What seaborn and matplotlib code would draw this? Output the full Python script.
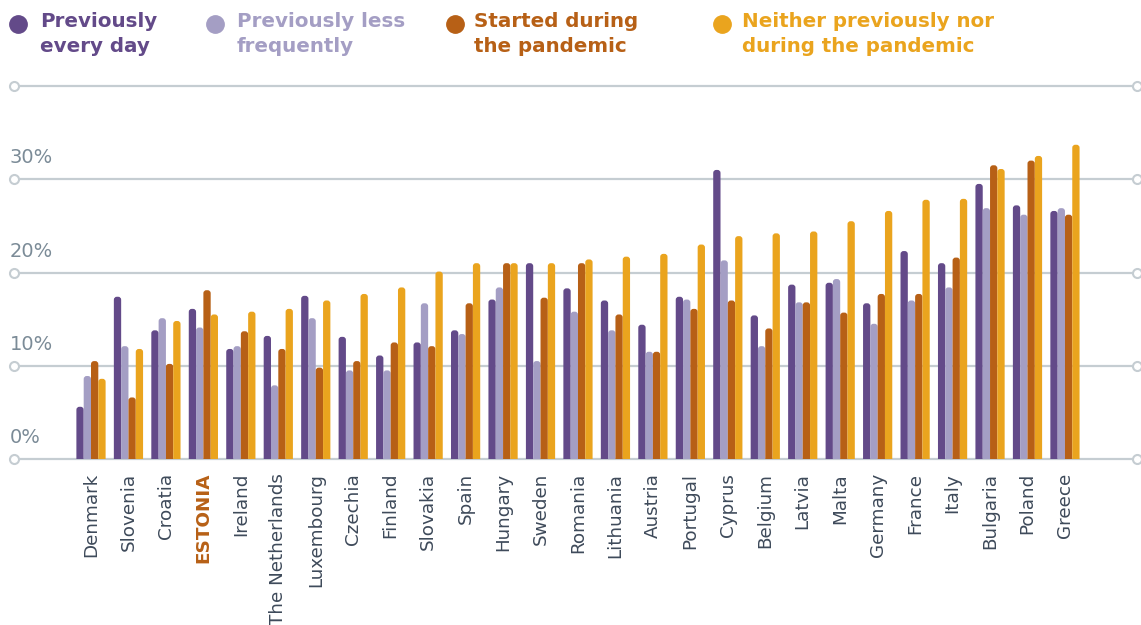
import matplotlib
matplotlib.use("Agg")
import matplotlib.pyplot as plt
from matplotlib.patches import FancyBboxPatch
from matplotlib.lines import Line2D
import seaborn as sns
import pandas as pd

countries = ["Denmark", "Slovenia", "Croatia", "ESTONIA", "Ireland", "The Netherlands",
             "Luxembourg", "Czechia", "Finland", "Slovakia", "Spain", "Hungary", "Sweden",
             "Romania", "Lithuania", "Austria", "Portugal", "Cyprus", "Belgium", "Latvia",
             "Malta", "Germany", "France", "Italy", "Bulgaria", "Poland", "Greece"]

every_day = [5.6, 17.4, 13.8, 16.1, 11.8, 13.2, 17.5, 13.1, 11.1, 12.5, 13.8, 17.1, 21.0,
             18.3, 17.0, 14.4, 17.4, 31.0, 15.4, 18.7, 18.9, 16.7, 22.3, 21.0, 29.5, 27.2, 26.6]
less_frequently = [8.9, 12.1, 15.1, 14.1, 12.1, 7.9, 15.1, 9.5, 9.5, 16.7, 13.4, 18.4, 10.5,
                   15.8, 13.8, 11.5, 17.1, 21.3, 12.1, 16.8, 19.3, 14.5, 17.0, 18.4, 26.9, 26.2, 26.9]
started_pandemic = [10.5, 6.6, 10.2, 18.1, 13.7, 11.8, 9.8, 10.5, 12.5, 12.1, 16.7, 21.0, 17.3,
                    21.0, 15.5, 11.5, 16.1, 17.0, 14.0, 16.8, 15.7, 17.7, 17.7, 21.6, 31.5, 32.0, 26.2]
neither = [8.6, 11.8, 14.8, 15.5, 15.8, 16.1, 17.0, 17.7, 18.4, 20.1, 21.0, 21.0, 21.0,
           21.4, 21.7, 22.0, 23.0, 23.9, 24.2, 24.4, 25.5, 26.6, 27.8, 27.9, 31.1, 32.5, 33.7]

series_names = ["Previously\nevery day", "Previously less\nfrequently",
                "Started during\nthe pandemic", "Neither previously nor\nduring the pandemic"]
series_colors = ["#634A89", "#A49EC4", "#B76016", "#EAA41E"]
y_ticks = [0, 10, 20, 30, 40]
y_tick_labels = ["0%", "10%", "20%", "30%", ""]

rows = []
for name, vals in zip(series_names, [every_day, less_frequently, started_pandemic, neither]):
    for c, v in zip(countries, vals):
        rows.append({"country": c, "series": name, "value": v})
df = pd.DataFrame(rows)

sns.set_theme(style="white")
plt.rcParams["font.family"] = ["DejaVu Sans"]

fig = plt.figure(figsize=(11.41, 6.25), dpi=100)
W, H = 1141, 625
ax_left_px, ax_right_px = 14, 1137
ax_top_px, ax_bot_px = 86, 459
ax = fig.add_axes([ax_left_px / W, 1 - ax_bot_px / H,
                   (ax_right_px - ax_left_px) / W, (ax_bot_px - ax_top_px) / H])

sns.barplot(data=df, x="country", y="value", hue="series", order=countries,
            hue_order=series_names, palette=series_colors, width=0.78,
            saturation=1, legend=False, ax=ax, zorder=3)

# category centres: 91 px + 37.46 px per country
x0 = (ax_left_px - 91) / 37.46
x1 = (ax_right_px - 91) / 37.46
ax.set_xlim(x0, x1)
ax.set_ylim(0, 40)

# rounded bar tops
xpx = (ax_right_px - ax_left_px) / (x1 - x0)
ypx = (ax_bot_px - ax_top_px) / 40.0
aspect = xpx / ypx
for p in list(ax.patches):
    x, w, h = p.get_x(), p.get_width(), p.get_height()
    fc = p.get_facecolor()
    p.remove()
    r = 3.0 / xpx
    fb = FancyBboxPatch((x, -2), w, h + 2,
                        boxstyle=f"round,pad=0,rounding_size={r}",
                        mutation_aspect=aspect, facecolor=fc, edgecolor="none",
                        zorder=3)
    ax.add_patch(fb)

# gridlines with hollow end markers
grid_col = "#C5CDD2"
for v in y_ticks:
    ax.plot([x0 + 0.09, x1 - 0.09], [v, v], color=grid_col, lw=1.6, zorder=1,
            clip_on=False, solid_capstyle="butt")
    ax.plot([x0, x1], [v, v], linestyle="none", marker="o", ms=6.5, mfc="white",
            mec=grid_col, mew=1.5, zorder=2, clip_on=False)

for v, lab in zip(y_ticks, y_tick_labels):
    if lab:
        ax.text(-0.004, v + 2.3, lab, transform=ax.get_yaxis_transform(),
                ha="left", va="center", fontsize=14, color="#7B8B97")

ax.set_yticks([])
ax.set_xlabel("")
ax.set_ylabel("")
for s in ax.spines.values():
    s.set_visible(False)
ax.tick_params(axis="x", length=0, pad=10)
ax.set_xticks(range(len(countries)))
ax.set_xticklabels(countries, rotation=90, fontsize=13.2, color="#3E4A5A",
                   va="top", ha="center")
for t in ax.get_xticklabels():
    if t.get_text() == "ESTONIA":
        t.set_color("#B76016")
        t.set_fontweight("bold")

# legend across the top
marker_x = [18, 215, 455, 722]
text_x = [40, 237, 474, 742]
for mx, tx, name, col in zip(marker_x, text_x, series_names, series_colors):
    fig.add_artist(Line2D([mx / W], [1 - 24 / H], marker="o", ms=12.5,
                          color=col, linestyle="none", transform=fig.transFigure))
    fig.text(tx / W, 1 - 12 / H, name, ha="left", va="top", fontsize=14.3,
             fontweight="bold", color=col, linespacing=1.38)

fig.savefig("out.png", dpi=100)
